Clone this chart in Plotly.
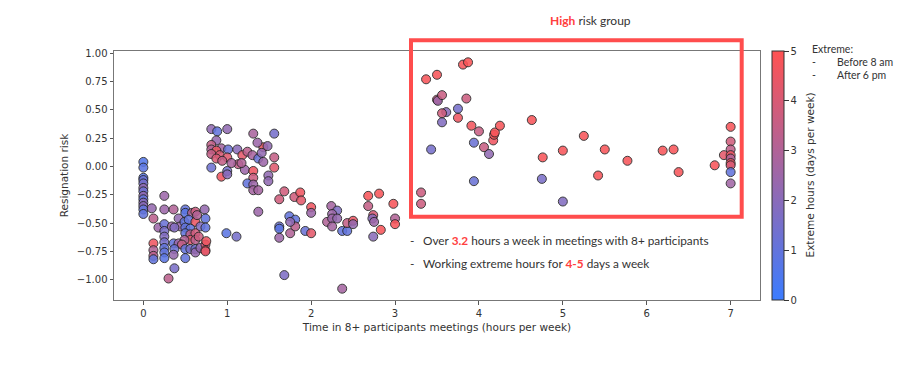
import plotly.graph_objects as go

# ---- data ----
hours = [
    # high-risk group
    3.37, 3.50, 3.81, 3.87, 3.50, 3.51, 3.56, 3.85, 3.75, 3.61, 3.56, 3.56, 3.75, 3.91, 4.00,
    3.94, 4.06, 4.12, 4.17, 4.18, 4.19, 4.25, 3.43, 3.94, 4.63, 4.76, 4.75, 5.00, 5.00, 5.25,
    5.42, 5.50, 5.77, 6.19, 6.32, 6.38, 6.81, 6.92,
    7.00, 7.00, 7.00, 7.00, 7.00, 7.00, 7.00, 7.00, 7.00,
    3.31, 3.31,
    # middle band
    1.68, 1.62, 1.80, 1.87, 1.88, 2.00, 2.00, 1.74, 1.81, 1.62, 1.62, 1.62, 1.75, 1.81, 1.93,
    2.00, 2.24, 2.31, 2.25, 2.19, 2.25, 2.31, 2.25, 2.37, 2.43, 2.43, 2.50, 2.50, 2.68, 2.81,
    2.68, 2.74, 2.73, 2.75, 2.83, 2.74, 2.98, 3.00, 3.00, 1.68, 2.37, 1.75,
    # upper cluster near 1 hour
    0.81, 0.88, 1.00, 1.31, 1.56, 0.87, 0.81, 0.93, 1.01, 0.81, 0.87, 0.91, 0.81, 0.87, 1.00,
    0.94, 0.81, 0.93, 1.00, 1.00, 1.12, 1.18, 1.13, 1.05, 1.24, 1.30, 1.37, 1.43, 1.41, 1.36,
    1.48, 1.56, 1.56, 1.43, 1.21, 1.31, 1.31, 1.24, 1.31, 1.31, 1.37, 1.49, 1.49, 1.17, 1.37,
    0.99, 1.11,
    # column at 0
    0.00, 0.00, 0.00, 0.00, 0.00, 0.00, 0.00, 0.00, 0.00, 0.00, 0.00, 0.00, 0.00,
    # lower cluster
    0.10, 0.25, 0.25, 0.12, 0.18, 0.25, 0.25, 0.25, 0.25, 0.25, 0.25, 0.25, 0.12, 0.12, 0.12,
    0.12, 0.36, 0.42, 0.50, 0.50, 0.58, 0.62, 0.73, 0.74, 0.44, 0.49, 0.54, 0.62, 0.34, 0.37,
    0.50, 0.56, 0.68, 0.74, 0.50, 0.56, 0.62, 0.56, 0.49, 0.62, 0.66, 0.36, 0.42, 0.46, 0.37,
    0.36, 0.50, 0.50, 0.56, 0.62, 0.62, 0.68, 0.74, 0.74, 0.74, 0.37, 0.30, 0.64, 0.75,
]

risk = [
    0.77, 0.81, 0.90, 0.92, 0.59, 0.58, 0.63, 0.60, 0.51, 0.48, 0.47, 0.39, 0.43, 0.36, 0.31,
    0.21, 0.17, 0.11, 0.23, 0.28, 0.30, 0.36, 0.15, -0.13, 0.41, 0.08, -0.11, 0.14, -0.31, 0.27,
    -0.08, 0.15, 0.05, 0.14, 0.15, -0.05, 0.01, 0.10,
    0.35, 0.22, 0.15, 0.10, 0.07, 0.03, 0.01, -0.05, -0.15,
    -0.23, -0.33,
    -0.22, -0.29, -0.27, -0.23, -0.30, -0.36, -0.41, -0.44, -0.47, -0.53, -0.55, -0.63, -0.59, -0.53, -0.57,
    -0.59, -0.35, -0.39, -0.42, -0.49, -0.46, -0.46, -0.53, -0.57, -0.57, -0.50, -0.48, -0.51, -0.26, -0.24,
    -0.35, -0.43, -0.46, -0.49, -0.56, -0.62, -0.33, -0.46, -0.51, -0.96, -1.08, -0.49,
    0.33, 0.31, 0.33, 0.29, 0.29, 0.23, 0.19, 0.16, 0.15, 0.15, 0.14, 0.10, 0.11, 0.07, 0.08,
    0.05, -0.01, -0.09, -0.04, -0.07, 0.15, 0.10, 0.02, 0.03, 0.13, 0.10, 0.07, 0.17, 0.12, 0.21,
    0.18, 0.08, -0.01, 0.04, -0.03, -0.04, -0.10, -0.15, -0.16, -0.21, -0.21, -0.08, -0.13, 0.03, -0.40,
    -0.59, -0.62,
    0.04, -0.01, -0.10, -0.12, -0.15, -0.19, -0.22, -0.26, -0.29, -0.32, -0.35, -0.38, -0.42,
    -0.37, -0.26, -0.38, -0.46, -0.54, -0.51, -0.57, -0.62, -0.67, -0.72, -0.76, -0.81, -0.68, -0.74, -0.79,
    -0.82, -0.38, -0.46, -0.38, -0.41, -0.41, -0.40, -0.38, -0.46, -0.53, -0.49, -0.47, -0.49, -0.53, -0.54,
    -0.54, -0.55, -0.53, -0.54, -0.59, -0.60, -0.59, -0.65, -0.65, -0.65, -0.62, -0.68, -0.68, -0.69, -0.73,
    -0.78, -0.73, -0.81, -0.73, -0.73, -0.76, -0.72, -0.69, -0.74, -0.75, -0.90, -0.99, -0.43, -0.66,
]

extreme_days = [
    4.8, 4.8, 4.8, 4.9, 3.8, 2.5, 3.6, 3.7, 1.5, 2.0, 3.8, 1.8, 4.6, 4.7, 3.6,
    1.2, 3.6, 2.2, 4.6, 4.8, 4.8, 4.8, 1.5, 1.2, 4.8, 4.8, 1.6, 4.8, 1.8, 4.8,
    4.8, 4.8, 4.8, 4.8, 4.8, 4.8, 4.8, 4.3,
    4.8, 3.8, 3.4, 4.6, 3.0, 4.6, 4.0, 1.0, 2.6,
    3.7, 3.7,
    3.8, 3.8, 3.8, 4.6, 4.3, 4.6, 2.5, 1.0, 1.0, 1.2, 0.8, 2.5, 3.0, 3.3, 1.2,
    4.3, 2.7, 1.7, 2.5, 3.0, 2.5, 2.3, 2.7, 1.0, 1.0, 3.5, 4.5, 2.3, 4.8, 4.8,
    3.5, 4.0, 2.0, 2.5, 4.8, 2.0, 4.8, 3.0, 4.8, 1.7, 2.7, 2.2,
    2.2, 1.0, 2.2, 2.8, 1.5, 2.3, 3.5, 2.7, 1.2, 3.0, 4.5, 4.0, 3.5, 4.0, 4.2,
    3.5, 1.3, 4.6, 1.5, 2.0, 2.0, 4.3, 3.5, 2.8, 3.3, 2.8, 1.2, 4.6, 2.2, 2.5,
    2.2, 3.5, 4.2, 2.5, 2.5, 4.6, 3.7, 1.0, 2.5, 2.7, 2.7, 2.2, 2.2, 3.0, 2.5,
    0.8, 1.5,
    0.6, 0.8, 0.7, 1.2, 1.5, 2.2, 1.3, 2.2, 1.0, 2.0, 2.0, 1.0, 1.0,
    2.3, 2.5, 2.5, 3.3, 2.5, 1.2, 1.6, 1.8, 1.5, 1.0, 1.0, 0.8, 4.6, 3.0, 3.3,
    1.0, 3.0, 2.2, 1.0, 0.8, 3.0, 3.7, 2.3, 1.0, 2.4, 1.0, 1.0, 4.5, 2.5, 1.8,
    1.0, 1.0, 1.8, 1.0, 1.0, 3.3, 3.8, 4.3, 3.0, 3.3, 3.7, 1.0, 2.5, 3.5, 1.2,
    2.3, 1.0, 1.0, 1.6, 1.3, 2.3, 2.3, 4.0, 4.6, 4.3, 1.6, 3.3, 3.0, 4.6,
]

x_ticks = [0, 1, 2, 3, 4, 5, 6, 7]
y_ticks = [-1.00, -0.75, -0.50, -0.25, 0.00, 0.25, 0.50, 0.75, 1.00]
cbar_ticks = [0, 1, 2, 3, 4, 5]

BLUE = "#3b7cff"
RED = "#ff5252"
AXIS_FONT = dict(family="DejaVu Sans", size=10, color="#333333")
TITLE_FONT = dict(family="DejaVu Sans", size=10.5, color="#333333")
NOTE_FONT = "Lato"

# The page body adds an 8px offset; plot area in window pixels: x 114..760, y 51..300.4
PL, PR, PT, PB = 114, 760, 51, 300.4
PW, PH = PR - PL, PB - PT


def px_x(px):
    return (px - PL) / PW


def px_y(py):
    return (PB - py) / PH


fig = go.Figure()
fig.add_trace(go.Scatter(
    x=hours, y=risk, mode="markers",
    marker=dict(
        size=9, color=extreme_days, cmin=0, cmax=5,
        colorscale=[[0, BLUE], [1, RED]], opacity=0.87,
        line=dict(width=1, color="#222222"),
        colorbar=dict(
            x=px_x(772), xanchor="left", xpad=0, ypad=0,
            y=0.5, yanchor="middle",
            len=1.0, lenmode="fraction", thickness=12,
            outlinewidth=1, outlinecolor="#333333",
            tickvals=cbar_ticks, ticks="outside", ticklen=4.5, tickcolor="#333333",
            tickfont=AXIS_FONT,
        ),
    ),
    showlegend=False, hoverinfo="x+y",
))

axis_common = dict(
    showgrid=False, zeroline=False, showline=True, linecolor="#777777", linewidth=1,
    mirror=True, ticks="outside", ticklen=3.5, tickcolor="#555555", tickfont=AXIS_FONT,
    automargin=False,
)
fig.update_xaxes(range=[-0.35, 7.35], tickvals=x_ticks,
                 title=dict(text="Time in 8+ participants meetings (hours per week)",
                            font=TITLE_FONT, standoff=6),
                 **axis_common)
fig.update_yaxes(range=[-1.18, 1.02], tickvals=y_ticks, tickformat=".2f",
                 title=dict(text="Resignation risk", font=TITLE_FONT, standoff=6),
                 **axis_common)

# Colorbar title placed as rotated text
fig.add_annotation(text="Extreme hours (days per week)", xref="paper", yref="paper",
                   x=px_x(809), y=0.5, textangle=-90, showarrow=False,
                   xanchor="center", yanchor="middle", font=TITLE_FONT)

# Highlight box for the high-risk group
fig.add_shape(type="rect", xref="paper", yref="paper",
              x0=px_x(411), x1=px_x(741.7), y0=px_y(217), y1=px_y(40.3),
              line=dict(color="#ff4d4d", width=4), fillcolor="rgba(0,0,0,0)")

fig.add_annotation(text="<b><span style='color:#ff4040'>High</span></b> risk group",
                   xref="paper", yref="paper", x=px_x(590), y=px_y(20),
                   showarrow=False, xanchor="center", yanchor="middle",
                   font=dict(family=NOTE_FONT, size=12, color="#333333"))

note_lines = [
    ("Over <b><span style='color:#ff4040'>3.2</span></b> hours a week in meetings with 8+ participants", 241),
    ("Working extreme hours for <b><span style='color:#ff4040'>4-5</span></b> days a week", 264),
]
for txt, py in note_lines:
    fig.add_annotation(text="-", xref="paper", yref="paper", x=px_x(408), y=px_y(py),
                       showarrow=False, xanchor="left", yanchor="middle",
                       font=dict(family=NOTE_FONT, size=11.8, color="#333333"))
    fig.add_annotation(text=txt, xref="paper", yref="paper", x=px_x(421), y=px_y(py),
                       showarrow=False, xanchor="left", yanchor="middle",
                       font=dict(family=NOTE_FONT, size=11.8, color="#333333"))

legend_lines = [("Extreme:", 810, 49), ("-", 810, 62), ("Before 8 am", 835, 62),
                ("-", 810, 75), ("After 6 pm", 835, 75)]
for txt, px, py in legend_lines:
    fig.add_annotation(text=txt, xref="paper", yref="paper", x=px_x(px), y=px_y(py),
                       showarrow=False, xanchor="left", yanchor="middle",
                       font=dict(family=NOTE_FONT, size=10.5, color="#333333"))

W, H = 897, 368  # window 905x376 minus the 8px page margin
fig.update_layout(
    width=W, height=H,
    margin=dict(l=PL - 8, r=W - (PR - 8), t=PT - 8, b=H - (PB - 8)),
    plot_bgcolor="white", paper_bgcolor="white",
)

fig.write_html("out.html")
